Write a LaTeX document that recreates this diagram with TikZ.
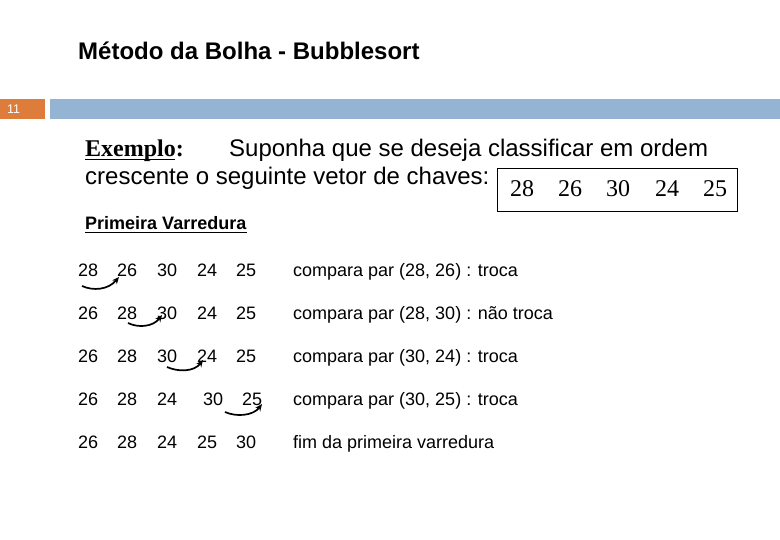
\documentclass[tikz,border=0pt]{standalone}
\usepackage{fontspec}
\setmainfont{Liberation Serif}
\setsansfont{Liberation Sans}
\usetikzlibrary{arrows.meta}
\definecolor{barorange}{HTML}{DE7C3C}
\definecolor{barblue}{HTML}{95B4D4}
\begin{document}
\begin{tikzpicture}[x=1pt,y=-1pt,
  txt/.style={inner sep=0pt,anchor=base west,font=\sffamily\fontsize{18}{20}\selectfont},
  swaparrow/.style={line width=1.7pt,-{Stealth[length=7pt,width=6pt]}}]
\useasboundingbox (0,0) rectangle (780,540);
% title
\node[inner sep=0pt,anchor=base west,font=\sffamily\bfseries\fontsize{24}{26}\selectfont] (title) at (78,60) {Método da Bolha - Bubblesort};
% bars
\fill[barorange] (0,99) rectangle (45,119);
\fill[barblue] (50,99) rectangle (780,119);
\node[inner sep=0pt,anchor=base west,text=white,font=\sffamily\fontsize{12.5}{13}\selectfont] (pagenum) at (7,114) {11};
% example text
\node[inner sep=0pt,anchor=base west,font=\rmfamily\bfseries\fontsize{24}{26}\selectfont] (ex) at (85,157) {Exemplo:};
\draw[line width=1pt] (85,160) -- (175,160);
\node[inner sep=0pt,anchor=base west,font=\sffamily\fontsize{24}{26}\selectfont] (l1) at (229,157) {Suponha que se deseja classificar em ordem};
\node[inner sep=0pt,anchor=base west,font=\sffamily\fontsize{24}{26}\selectfont] (l2) at (85,185) {crescente o seguinte vetor de chaves:};
\draw[line width=0.8pt] (497,168) rectangle (737,211);
\foreach \v/\x in {28/510,26/558,30/606,24/655,25/703}
  \node[inner sep=0pt,anchor=base west,font=\rmfamily\fontsize{24}{26}\selectfont] (k\v) at (\x,197) {\v};
% heading
\node[inner sep=0pt,anchor=base west,font=\sffamily\bfseries\fontsize{18}{20}\selectfont] (pv) at (85,230) {Primeira Varredura};
\draw[line width=1pt] (85,233) -- (247,233);
% rows
\foreach \a/\b/\c/\d/\e/\t/\y/\n in {
  28/26/30/24/25/{compara par (28, 26) : troca}/276.5/1,
  26/28/30/24/25/{compara par (28, 30) : não troca}/319.5/2,
  26/28/30/24/25/{compara par (30, 24) : troca}/362.5/3,
  26/28/24/{}/{}/{compara par (30, 25) : troca}/405.5/4,
  26/28/24/25/30/{fim da primeira varredura}/448.5/5}{
  \node[txt] (r\n a) at (78,\y) {\a};
  \node[txt] (r\n b) at (117,\y) {\b};
  \node[txt] (r\n c) at (157,\y) {\c};
  \node[txt] (r\n d) at (197,\y) {\d};
  \node[txt] (r\n e) at (236,\y) {\e};
  \node[txt] (r\n t) at (293,\y) {\t};
}
\node[txt] (r4x) at (203,405.5) {30};
\node[txt] (r4y) at (242,405.5) {25};
% arrows
\coordinate (s1) at (82,286); \coordinate (e1) at (119,277);
\coordinate (s2) at (128,323); \coordinate (e2) at (162,315);
\coordinate (s3) at (167,367); \coordinate (e3) at (203,360);
\coordinate (s4) at (225,412); \coordinate (e4) at (262,404);
\draw[swaparrow] (s1) .. controls (93,291) and (108,290) .. (e1);
\draw[swaparrow] (s2) .. controls (138,328) and (153,327) .. (e2);
\draw[swaparrow] (s3) .. controls (178,372) and (194,372) .. (e3);
\draw[swaparrow] (s4) .. controls (236,417) and (253,416) .. (e4);
\end{tikzpicture}
\end{document}
